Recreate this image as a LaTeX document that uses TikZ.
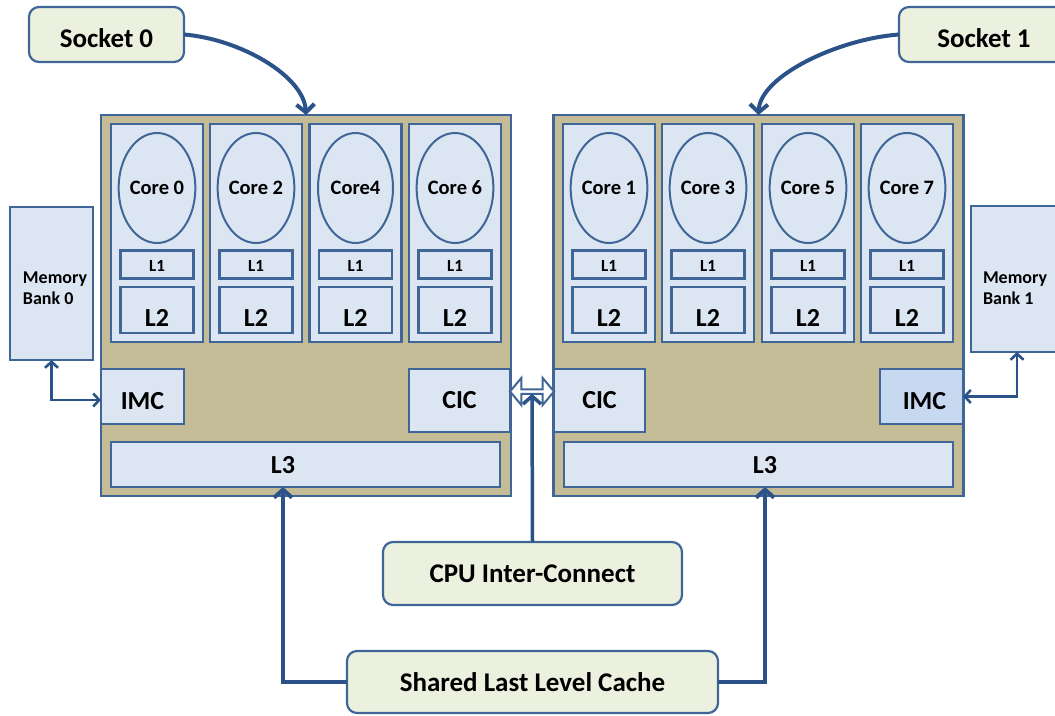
\documentclass[tikz,border=0pt]{standalone}
\usepackage{fontspec}
\setmainfont{Carlito}
\usetikzlibrary{arrows.meta,shapes.geometric,shapes.arrows}

\definecolor{edge}{HTML}{3F6696}
\definecolor{wire}{HTML}{2B5389}
\definecolor{paleblue}{HTML}{DCE6F2}
\definecolor{midblue}{HTML}{C6D9F1}
\definecolor{socketfill}{HTML}{C4BC96}
\definecolor{sage}{HTML}{EBF1DE}

\begin{document}
\begin{tikzpicture}[x=1pt,y=-1pt,
  every node/.style={inner sep=0pt, outer sep=0pt},
  part/.style={rectangle, draw=edge, line width=2.2pt, fill=paleblue},
  socketbody/.style={rectangle, draw=edge, line width=2.5pt, fill=socketfill,
    minimum width=410pt, minimum height=381pt},
  core/.style={ellipse, draw=edge, line width=2pt, fill=paleblue,
    minimum width=75pt, minimum height=110pt, font=\bfseries\fontsize{20.5}{24}\selectfont},
  bigtext/.style={font=\bfseries\fontsize{26}{30}\selectfont},
  lowtext/.style={bigtext, text height=25pt, text depth=0pt},
  smalltext/.style={font=\bfseries\fontsize{17}{20}\selectfont, text height=14pt, text depth=0pt},
  memtext/.style={font=\bfseries\fontsize{18}{21}\selectfont, align=left, anchor=west},
  callout/.style={rectangle, draw=edge, line width=2.2pt, fill=sage,
    rounded corners=10pt, font=\bfseries\fontsize{27}{32}\selectfont},
  thickwire/.style={draw=wire, line width=4pt, -{Straight Barb[length=8pt,width=18pt]}},
  thinwire/.style={draw=wire, line width=2.6pt,
    {Straight Barb[length=6pt,width=13pt]}-{Straight Barb[length=6pt,width=13pt]}},
]
\useasboundingbox (0,0) rectangle (1055,715);
\clip (0,0) rectangle (1055,715);

% socket packages
\node[socketbody] (sock0) at (306,305.5) {};
\node[socketbody] (sock1) at (758.5,305.5) {};

% cores with private L1 / L2
\foreach \cx/\lab/\id in {157/Core 0/a, 256/Core 2/b, 355.5/Core4/c, 455/Core 6/d,
                          609/Core 1/e, 708/Core 3/f, 808/Core 5/g, 907/Core 7/h} {
  \node[part, minimum width=92pt, minimum height=218pt] (col\id) at (\cx,233) {};
  \node[core] (core\id) at (\cx,188) {\lab};
  \node[part, minimum width=73pt, minimum height=28pt, smalltext] (lone\id) at (\cx,264.5) {L1};
  \node[part, minimum width=73pt, minimum height=46pt] (ltwo\id) at (\cx,310) {};
  \node[bigtext] (ltwotxt\id) at (\cx,318) {L2};
}

% memory and interconnect controllers
\node[part, minimum width=83pt, minimum height=55pt, lowtext] (imc0) at (142.5,396.5) {IMC};
\node[part, minimum width=101pt, minimum height=63pt, bigtext] (cic0) at (459.5,400.5) {CIC};
\node[part, minimum width=91pt, minimum height=63pt, bigtext] (cic1) at (599.5,400.5) {CIC};
\node[part, fill=midblue, minimum width=83pt, minimum height=55pt, lowtext] (imc1) at (921.5,396.5) {\hspace*{6pt}IMC};

% shared L3 caches
\node[part, minimum width=389pt, minimum height=45pt] (lthree0) at (305.5,464.5) {};
\node[bigtext] (lthreetxt0) at (283,465) {L3};
\node[part, minimum width=389pt, minimum height=45pt] (lthree1) at (758.5,464.5) {};
\node[bigtext] (lthreetxt1) at (765,465) {L3};

% memory banks
\node[part, minimum width=83pt, minimum height=153pt] (mem0) at (51.5,283.5) {};
\node[memtext] (memtxt0) at (23,288) {Memory\\Bank 0};
\node[part, minimum width=87pt, minimum height=146pt] (mem1) at (1014.5,279) {};
\node[memtext] (memtxt1) at (983,288) {Memory\\Bank 1};

% callouts
\node[callout, minimum width=155pt, minimum height=55pt, text height=26pt, text depth=0pt] (lab0) at (106.5,34.5) {Socket 0};
\node[callout, minimum width=170pt, minimum height=55pt, text height=26pt, text depth=0pt] (lab1) at (984,34.5) {Socket 1};
\node[callout, minimum width=299pt, minimum height=63pt] (cpu) at (532.5,573.5) {CPU Inter-Connect};
\node[callout, minimum width=371pt, minimum height=62pt] (llc) at (532.5,682) {Shared Last Level Cache};

% socket pointers
\draw[thickwire] (lab0.east) .. controls (240,39) and (304,76) .. (sock0.north);
\draw[thickwire] (lab1.west) .. controls (838,39) and (760,76) .. (sock1.north);

% memory links
\draw[thinwire] (mem0.south) |- ([yshift=-3.5pt]imc0.west);
\draw[thinwire] (imc1.east) -| ([xshift=2.5pt]mem1.south);

% socket-to-socket link
\node[double arrow, draw=edge, line width=2pt, fill=white,
      minimum height=44pt, minimum width=27pt,
      double arrow head extend=5pt, double arrow tip angle=100] (link) at (532,391.5) {};
\draw[thickwire, line width=3.5pt] (cpu.north) -- (link.south);

% last level cache links
\draw[thickwire] (llc.west) -| (lthree0.south -| lthreetxt0);
\draw[thickwire] (llc.east) -| (lthree1.south -| lthreetxt1);
\end{tikzpicture}
\end{document}
